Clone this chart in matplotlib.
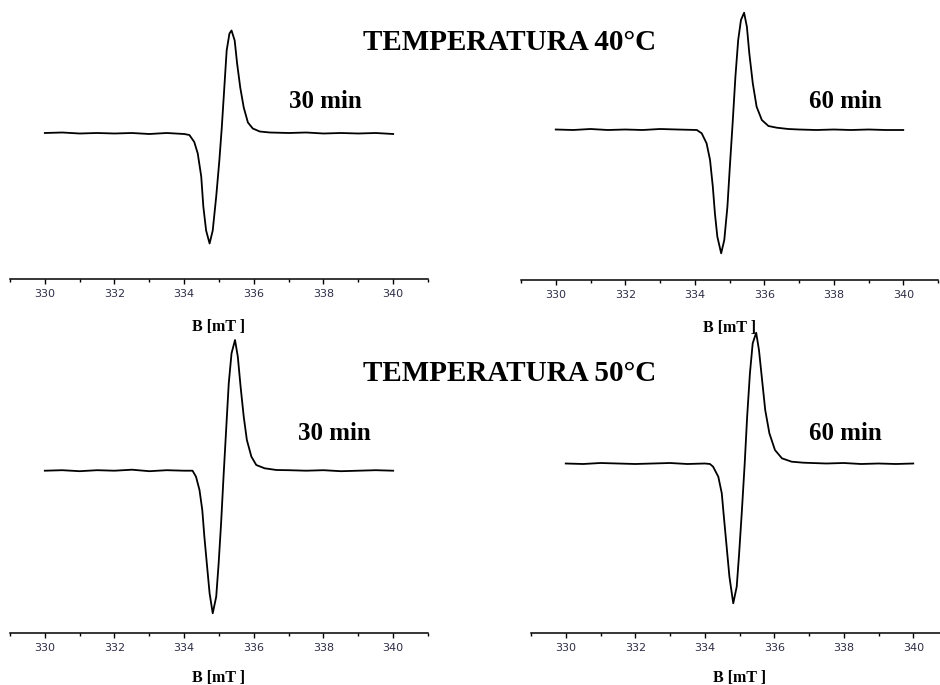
import matplotlib
matplotlib.use("Agg")
import matplotlib.pyplot as plt
from matplotlib.ticker import MultipleLocator

# EPR spectra: field B (mT) and signal (a.u., baseline = 0)
b_40_30 = [330.0, 330.5, 331.0, 331.5, 332.0, 332.5, 333.0, 333.5, 334.0,
           334.15, 334.29, 334.39, 334.49, 334.55, 334.63, 334.73, 334.82, 334.92,
           335.01, 335.08, 335.16, 335.22, 335.30, 335.36, 335.45, 335.52, 335.61,
           335.71, 335.83, 335.97, 336.17, 336.46,
           337.0, 337.5, 338.0, 338.5, 339.0, 339.5, 340.0]
s_40_30 = [0.5, 1, 0, 0.5, 0, 0.5, -0.5, 0.5, -0.5,
           -1.5, -8.5, -20, -43, -73, -97, -110, -97, -63,
           -27, 6, 50, 83, 100, 103, 93, 70, 46,
           26, 11, 5, 2, 1,
           0.5, 1, 0, 0.5, 0, 0.5, -0.5]

b_40_60 = [330.0, 330.5, 331.0, 331.5, 332.0, 332.5, 333.0, 333.5,
           334.06, 334.20, 334.34, 334.44, 334.52, 334.58, 334.65, 334.76, 334.85,
           334.94, 335.01, 335.09, 335.17, 335.25, 335.33, 335.42, 335.50, 335.57,
           335.67, 335.78, 335.93, 336.12, 336.36, 336.69,
           337.0, 337.5, 338.0, 338.5, 339.0, 339.5, 340.0]
s_40_60 = [0.5, 0, 1, 0, 0.5, 0, 1, 0.5,
           0, -3.3, -13.3, -30, -56.7, -83.3, -106.7, -123.3, -110,
           -76.7, -36.7, 6.7, 53.3, 90, 110, 117.3, 103.3, 76.7,
           46.7, 23.3, 10, 4, 2.3, 1,
           0.5, 0, 0.5, 0, 0.5, 0, 0]

b_50_30 = [330.0, 330.5, 331.0, 331.5, 332.0, 332.5, 333.0, 333.5, 334.0,
           334.24, 334.34, 334.44, 334.52, 334.58, 334.65, 334.73, 334.82, 334.92,
           334.99, 335.06, 335.13, 335.21, 335.28, 335.36, 335.46, 335.54, 335.62,
           335.71, 335.80, 335.93, 336.07, 336.31, 336.65,
           337.0, 337.5, 338.0, 338.5, 339.0, 339.5, 340.0]
s_50_30 = [0, 0.5, -0.5, 0.5, 0, 1, -0.5, 0.5, 0,
           0, -6, -19.3, -39.3, -66, -92.6, -122.6, -142.6, -126,
           -92.6, -52.6, -6, 44, 87.4, 117.4, 130.7, 114, 84,
           54, 30.7, 14, 5.7, 2.4, 0.7,
           0.5, 0, 0.5, -0.5, 0, 0.5, 0]

b_50_60 = [330.0, 330.5, 331.0, 331.5, 332.0, 332.5, 333.0, 333.5, 334.0,
           334.15, 334.24, 334.39, 334.49, 334.55, 334.63, 334.71, 334.82, 334.92,
           334.99, 335.07, 335.15, 335.22, 335.30, 335.38, 335.48, 335.56, 335.65,
           335.74, 335.86, 336.02, 336.22, 336.50, 336.84,
           337.5, 338.0, 338.5, 339.0, 339.5, 340.0]
s_50_60 = [0.5, 0, 1, 0.5, 0, 0.5, 1, 0, 0.5,
           0, -2.7, -12.7, -29.3, -52.7, -82.7, -112.7, -139.3, -122.7,
           -89.3, -46, 0.7, 47.3, 90.7, 120.7, 131.3, 114, 84,
           54, 30.7, 14, 5.7, 2.3, 1.3,
           0.5, 1, 0, 0.5, 0, 0.5]

titles = ["TEMPERATURA 40\u00b0C", "TEMPERATURA 50\u00b0C"]
time_labels = ["30 min", "60 min", "30 min", "60 min"]

W, H = 940, 685
fig = plt.figure(figsize=(W / 100, H / 100), dpi=100)
serif = "Liberation Serif"


def px_axes(left, top, right, bottom):
    # axes box given in pixels from the top-left corner
    return fig.add_axes([left / W, 1 - bottom / H, (right - left) / W, (bottom - top) / H])


def px_text(x, y, s, size):
    fig.text(x / W, 1 - y / H, s, ha="center", va="center",
             family=serif, weight="bold", fontsize=size)


panels = [
    (b_40_30, s_40_30, (10, 0, 428, 279), (-145.5, 133.5), 14),
    (b_40_60, s_40_60, (521, 0, 938, 280), (-150, 130), 14),
    (b_50_30, s_50_30, (10, 330, 428, 632.5), (-161.8, 140.7), 12),
    (b_50_60, s_50_60, (531, 330, 948, 632.5), (-168.5, 134), 12),
]

for b, s, box, ylim, pad in panels:
    ax = px_axes(*box)
    ax.plot(b, s, color="black", lw=1.3)
    ax.set_xlim(329, 341)
    ax.set_ylim(*ylim)
    for side in ["top", "left", "right"]:
        ax.spines[side].set_visible(False)
    ax.spines["bottom"].set_linewidth(1.1)
    ax.set_yticks([])
    ax.xaxis.set_major_locator(MultipleLocator(2))
    ax.xaxis.set_minor_locator(MultipleLocator(1))
    ax.set_xticks([330, 332, 334, 336, 338, 340])
    ax.tick_params(axis="x", which="major", direction="out", length=3.5, width=1,
                   pad=4, labelsize=8, labelcolor="#2e2e48")
    ax.tick_params(axis="x", which="minor", direction="out", length=2.5, width=1)
    ax.set_xlabel("B [mT ]", family=serif, weight="bold", fontsize=11.5, labelpad=pad)
    ax.patch.set_alpha(0)

px_text(510, 42, titles[0], 21)
px_text(510, 374, titles[1], 21)
px_text(325, 101, time_labels[0], 18)
px_text(845, 101, time_labels[1], 18)
px_text(334, 434, time_labels[2], 18)
px_text(845, 434, time_labels[3], 18)

fig.savefig("out.png", dpi=100)
